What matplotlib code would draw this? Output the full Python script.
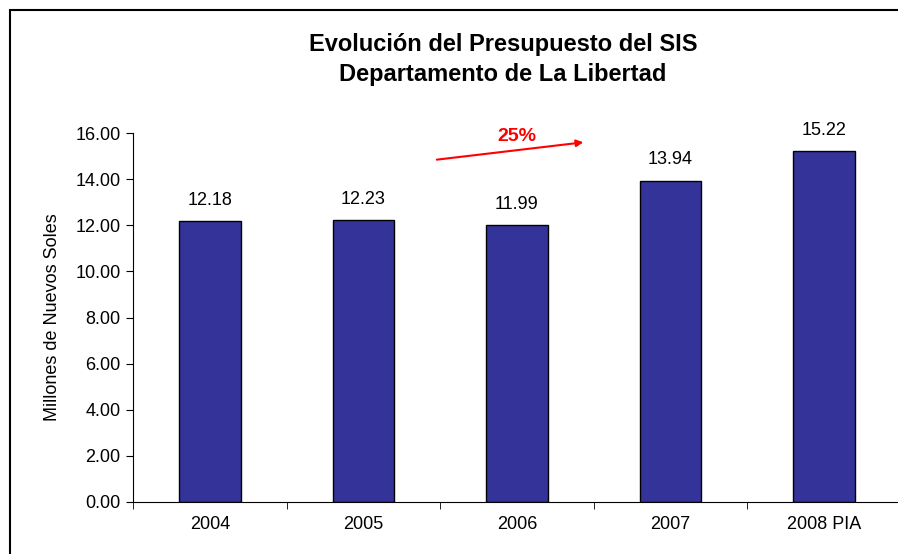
import numpy as np
import matplotlib.pyplot as plt
from matplotlib.patches import Rectangle

years = ['2004', '2005', '2006', '2007', '2008 PIA']
budget = [12.18, 12.23, 11.99, 13.94, 15.22]
yticks = [0, 2, 4, 6, 8, 10, 12, 14, 16]

plt.rcParams['font.family'] = ['Liberation Sans', 'DejaVu Sans']

W, H = 898, 554
fig = plt.figure(figsize=(W / 100, H / 100), dpi=100)
ax = fig.add_axes([133 / W, 52 / H, 768 / W, 369 / H])

x = np.arange(len(years))
ax.bar(x, budget, width=0.40, color='#333399', edgecolor='black', linewidth=1.0, zorder=2)

for xi, v in zip(x, budget):
    ax.annotate('%.2f' % v, (xi, v), xytext=(0, 15), textcoords='offset points',
                ha='center', va='center', fontsize=13)

ax.set_xlim(-0.5, len(years) - 0.5)
ax.set_ylim(0, 16)
ax.set_yticks(yticks)
ax.set_yticklabels(['%.2f' % t for t in yticks], fontsize=13)
ax.set_xticks(x)
ax.set_xticklabels(years, fontsize=13)
ax.tick_params(axis='x', which='major', length=0, pad=10)
ax.set_xticks(np.arange(-0.5, len(years), 1.0), minor=True)
ax.tick_params(axis='x', which='minor', length=5, direction='out')
ax.tick_params(axis='y', length=5, direction='out', pad=4)

for s in ['top', 'right']:
    ax.spines[s].set_visible(False)
ax.set_ylabel('Millones de Nuevos Soles', fontsize=13, labelpad=10)

# flecha de crecimiento
ax.annotate('', xy=(2.45, 15.61), xytext=(1.46, 14.83),
            arrowprops=dict(arrowstyle='-|>', color='red', lw=1.5, mutation_scale=10))
ax.text(2.0, 15.85, '25%', color='red', fontsize=14, fontweight='bold', ha='center', va='center')

fig.text(503 / W, 1 - 45 / H, 'Evolución del Presupuesto del SIS', ha='center', va='center',
         fontsize=17, fontweight='bold')
fig.text(503 / W, 1 - 75 / H, 'Departamento de La Libertad', ha='center', va='center',
         fontsize=17, fontweight='bold')

fig.patches.append(Rectangle((10 / W, -0.1), 1.2, 1.1 - 10 / H, transform=fig.transFigure,
                             fill=False, edgecolor='black', linewidth=1.5))

fig.savefig('out.png', dpi=100)
